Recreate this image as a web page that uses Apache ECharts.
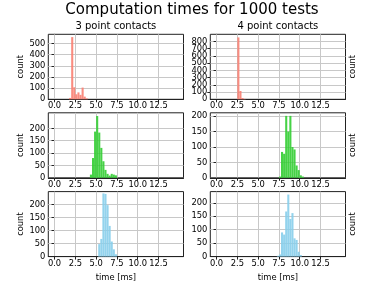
<!DOCTYPE html>
<html><head><meta charset="utf-8">
<script src="https://cdn.jsdelivr.net/npm/echarts@6/dist/echarts.min.js"></script>
<style>html,body{margin:0;padding:0;background:#fff}#c{width:384px;height:288px}</style>
</head><body><div id="c"></div>
<script>
const mainTitle = 'Computation times for 1000 tests';
const colTitles = ['3 point contacts', '4 point contacts'];
const xLabel = 'time [ms]';
const yLabel = 'count';
const binWidth = 0.25;
const xTicks = [0, 2.5, 5, 7.5, 10, 12.5];

// row 1 (salmon)
const tlEdges = [1.75, 2.0, 2.25, 2.5, 2.75, 3.0, 3.25, 3.5, 3.75];
const tlCounts = [12, 558, 108, 45, 62, 40, 105, 24, 8];
const trEdges = [2.5, 2.75, 3.0, 3.25];
const trCounts = [855, 115, 18, 5];
// row 2 (green)
const mlEdges = [4.25, 4.5, 4.75, 5.0, 5.25, 5.5, 5.75, 6.0, 6.25, 6.5, 6.75, 7.0, 7.25];
const mlCounts = [13, 80, 187, 250, 183, 121, 67, 32, 16, 9, 16, 13, 10];
const mrEdges = [7.5, 7.75, 8.0, 8.25, 8.5, 8.75, 9.0, 9.25, 9.5, 9.75, 10.0, 10.25];
const mrCounts = [4, 84, 78, 201, 150, 201, 100, 92, 40, 25, 8, 4];
// row 3 (blue)
const blEdges = [5.25, 5.5, 5.75, 6.0, 6.25, 6.5, 6.75, 7.0, 7.25];
const blCounts = [48, 68, 243, 241, 198, 118, 58, 28, 9];
const brEdges = [7.25, 7.5, 7.75, 8.0, 8.25, 8.5, 8.75, 9.0, 9.25, 9.5, 9.75, 10.0];
const brCounts = [3, 8, 90, 82, 168, 231, 140, 162, 68, 62, 18, 6];

const yMax = [583, 898, 263, 211, 250, 242];
const yTicks = [
  [0, 100, 200, 300, 400, 500],
  [0, 200, 400, 600, 800],
  [0, 50, 100, 150, 200],
  [0, 50, 100, 150, 200],
  [0, 50, 100, 150, 200],
  [0, 50, 100, 150, 200]
];
// extra interleaved ticks for the crowded top-right axis
const trExtraTicks = [100, 300, 500, 700];
const rowColors = ['#FA8072', '#32CD32', '#87CEEB'];

const panels = [
  [tlEdges, tlCounts], [trEdges, trCounts],
  [mlEdges, mlCounts], [mrEdges, mrCounts],
  [blEdges, blCounts], [brEdges, brCounts]
];

const FONT = 'DejaVu Sans';
const TICK = 8.33;
const colLeft = [48.3, 210.3];
const colWidth = 135.2;
const rowTop = [34.3, 112.8, 191.6];
const rowHeight = 65;

function yAxisFor(i, ticks, withLine) {
  return {
    gridIndex: i, type: 'value', min: 0, max: yMax[i], position: 'left',
    axisLine: {show: withLine, lineStyle: {color: '#222', width: 1}},
    axisTick: {show: true, length: 3, customValues: ticks, lineStyle: {color: '#222', width: 1}},
    axisLabel: {customValues: ticks, fontSize: TICK, color: '#000', margin: 3, fontFamily: FONT,
      showMinLabel: true, showMaxLabel: true, hideOverlap: false},
    splitLine: {show: true, lineStyle: {color: '#c8c8c8', width: 1}}
  };
}

const grids = [], xAxes = [], yAxes = [], series = [];
panels.forEach((p, i) => {
  const row = Math.floor(i / 2), col = i % 2;
  grids.push({left: colLeft[col], top: rowTop[row], width: colWidth, height: rowHeight,
    show: true, borderColor: '#222', borderWidth: 1, backgroundColor: 'transparent'});
  const xa = {
    gridIndex: i, type: 'value', min: -0.75, max: 15.5, z: 1,
    axisLine: {show: true, onZero: false, lineStyle: {color: '#222', width: 1}},
    axisTick: {show: true, length: 3, customValues: xTicks, lineStyle: {color: '#222', width: 1}},
    axisLabel: {customValues: xTicks, formatter: v => v.toFixed(1), fontSize: TICK, color: '#000', margin: 3,
      fontFamily: FONT, showMinLabel: true, showMaxLabel: true, hideOverlap: false},
    splitLine: {show: true, lineStyle: {color: '#c8c8c8', width: 1}}
  };
  if (row === 2) {
    xa.name = xLabel; xa.nameLocation = 'middle'; xa.nameGap = 17.5;
    xa.nameTextStyle = {fontSize: TICK, color: '#000', fontFamily: FONT};
  }
  xAxes.push(xa);
  const ya = yAxisFor(i, yTicks[i], true);
  if (col === 0) {
    ya.name = yLabel; ya.nameLocation = 'middle'; ya.nameGap = 23.5; ya.nameRotate = 90;
    ya.nameTextStyle = {fontSize: TICK, color: '#000', fontFamily: FONT};
  }
  yAxes.push(ya);
  series.push({
    type: 'custom', xAxisIndex: i, yAxisIndex: i,
    itemStyle: {color: rowColors[row]},
    data: p[0].map((e, k) => [e, p[1][k]]),
    encode: {x: 0, y: 1},
    renderItem: (params, api) => {
      const x0 = api.value(0), c = api.value(1);
      const a = api.coord([x0, c]);
      const b = api.coord([x0 + binWidth, 0]);
      return {type: 'rect', shape: {x: a[0], y: a[1], width: b[0] - a[0], height: b[1] - a[1]},
        style: {fill: api.visual('color'), opacity: 0.9}};
    }
  });
});
// interleaved labels on the top-right panel
yAxes.push(yAxisFor(1, trExtraTicks, false));
// right-side "count" labels for right column
[1, 3, 5].forEach(i => {
  yAxes.push({
    gridIndex: i, type: 'value', position: 'right', min: 0, max: 1,
    axisLine: {show: false}, axisTick: {show: false}, axisLabel: {show: false}, splitLine: {show: false},
    name: yLabel, nameLocation: 'middle', nameGap: 3, nameRotate: 90,
    nameTextStyle: {fontSize: TICK, color: '#000', fontFamily: FONT}
  });
});

const chart = echarts.init(document.getElementById('c'), null, {renderer: 'canvas'});
chart.setOption({
  animation: false,
  backgroundColor: '#fff',
  title: [
    {text: mainTitle, left: 192, top: 3, textAlign: 'center', padding: 0,
      textStyle: {fontSize: 15, fontWeight: 'normal', color: '#000', fontFamily: FONT}},
    {text: colTitles[0], left: 115.9, top: 21, textAlign: 'center', padding: 0,
      textStyle: {fontSize: 10, fontWeight: 'normal', color: '#000', fontFamily: FONT}},
    {text: colTitles[1], left: 277.9, top: 21, textAlign: 'center', padding: 0,
      textStyle: {fontSize: 10, fontWeight: 'normal', color: '#000', fontFamily: FONT}}
  ],
  grid: grids, xAxis: xAxes, yAxis: yAxes, series: series
});
</script></body></html>
